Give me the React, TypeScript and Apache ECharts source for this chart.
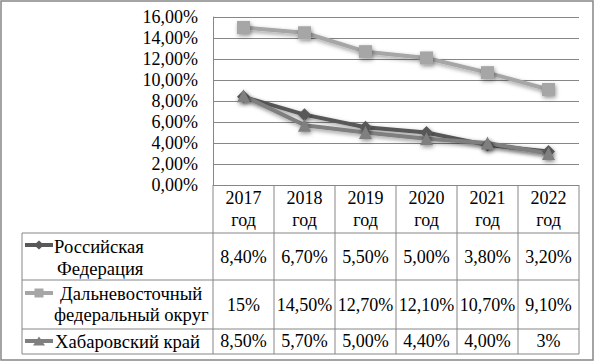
import React, { useEffect, useRef } from "react";
import * as echarts from "echarts";

const years = ["2017", "2018", "2019", "2020", "2021", "2022"];
const yearSuffix = "год";

const rfName = ["Российская", "Федерация"];
const dfoName = ["Дальневосточный", "федеральный округ"];
const khName = ["Хабаровский край"];

const rfValues = [8.4, 6.7, 5.5, 5.0, 3.8, 3.2];
const dfoValues = [15, 14.5, 12.7, 12.1, 10.7, 9.1];
const khValues = [8.5, 5.7, 5.0, 4.4, 4.0, 3.0];

const rfLabels = ["8,40%", "6,70%", "5,50%", "5,00%", "3,80%", "3,20%"];
const dfoLabels = ["15%", "14,50%", "12,70%", "12,10%", "10,70%", "9,10%"];
const khLabels = ["8,50%", "5,70%", "5,00%", "4,40%", "4,00%", "3%"];

const yMin = 0;
const yMax = 16;
const yInterval = 2;

const FONT = "Liberation Serif";
const W = 595;
const H = 362;
const L = 213;
const R = 579;
const T = 17;
const B = 185;
const GRID_COLOR = "#868686";
const TEXT_COLOR = "#000000";

const colors = { rf: "#595959", dfo: "#a6a6a6", kh: "#7f7f7f" };

export default function App() {
  const ref = useRef<HTMLDivElement>(null);
  useEffect(() => {
    if (!ref.current) return;
    const chart = echarts.init(ref.current, undefined, { renderer: "svg" });
    const colW = (R - L) / years.length;
    const rowLines = [233, 280, 329, 354];
    const tableLeft = 22;

    const graphics: any[] = [];
    const line = (x1: number, y1: number, x2: number, y2: number) =>
      graphics.push({
        type: "line",
        shape: { x1, y1, x2, y2 },
        style: { stroke: GRID_COLOR, lineWidth: 1 },
        silent: true,
      });
    graphics.push({
      type: "rect",
      shape: { x: 1, y: 1, width: W - 3, height: H - 3 },
      style: { fill: "none", stroke: GRID_COLOR, lineWidth: 1.5 },
      silent: true,
    });
    rowLines.forEach((y) => line(tableLeft, y, R, y));
    line(tableLeft, rowLines[0], tableLeft, rowLines[3]);
    for (let i = 0; i <= years.length; i++) {
      const x = Math.round(L + colW * i);
      line(x, B, x, rowLines[3]);
    }
    const txt = (text: string, x: number, y: number, align: string, size = 18) =>
      graphics.push({
        type: "text",
        x,
        y,
        style: {
          text,
          fontFamily: FONT,
          fontSize: size,
          fill: TEXT_COLOR,
          align,
          verticalAlign: "middle",
        },
        silent: true,
      });
    const rows = [
      { labels: rfLabels, y: 257 },
      { labels: dfoLabels, y: 305 },
      { labels: khLabels, y: 341 },
    ];
    rows.forEach((r) =>
      r.labels.forEach((lab, i) => txt(lab, L + colW * (i + 0.5), r.y, "center"))
    );
    const hs = 18.6;
    txt(rfName[0], 54, 246, "left", hs);
    txt(rfName[1], 57, 268, "left", hs);
    txt(dfoName[0], 60, 293, "left", hs);
    txt(dfoName[1], 54, 314, "left", hs);
    txt(khName[0], 55, 341, "left", hs);

    const key = (y: number, color: string, symbol: string, w: number, h: number) => {
      graphics.push({
        type: "line",
        shape: { x1: 25, y1: y, x2: 53, y2: y },
        style: { stroke: color, lineWidth: 4 },
        silent: true,
      });
      if (symbol === "diamond") {
        graphics.push({
          type: "polygon",
          shape: { points: [[39, y - h / 2], [39 + w / 2, y], [39, y + h / 2], [39 - w / 2, y]] },
          style: { fill: color },
          silent: true,
        });
      } else if (symbol === "rect") {
        graphics.push({
          type: "rect",
          shape: { x: 39 - w / 2, y: y - h / 2, width: w, height: h },
          style: { fill: color },
          silent: true,
        });
      } else {
        graphics.push({
          type: "polygon",
          shape: { points: [[39, y - h / 2], [39 + w / 2, y + h / 2], [39 - w / 2, y + h / 2]] },
          style: { fill: color },
          silent: true,
        });
      }
    };
    key(245, colors.rf, "diamond", 10, 9);
    key(293, colors.dfo, "rect", 9, 9);
    key(341, colors.kh, "triangle", 12, 9);

    const shadow = {
      shadowBlur: 4,
      shadowColor: "rgba(0,0,0,0.4)",
      shadowOffsetX: 1,
      shadowOffsetY: 2,
    };
    const mkSeries = (name: string, data: number[], color: string, symbol: string, size: number) => ({
      name,
      type: "line",
      data,
      symbol,
      symbolSize: size,
      lineStyle: { color, width: 4, ...shadow },
      itemStyle: { color, ...shadow },
      silent: true,
    });

    chart.setOption({
      animation: false,
      textStyle: { fontFamily: FONT },
      grid: { left: L, right: W - R, top: T, bottom: H - B, containLabel: false },
      xAxis: {
        type: "category",
        data: years,
        boundaryGap: true,
        axisLine: { show: false },
        axisTick: { show: false },
        axisLabel: {
          formatter: (v: string) => `${v}\n${yearSuffix}`,
          fontSize: 18,
          fontFamily: FONT,
          color: TEXT_COLOR,
          lineHeight: 22,
          margin: 2,
        },
      },
      yAxis: {
        type: "value",
        min: yMin,
        max: yMax,
        interval: yInterval,
        axisLine: { show: true, lineStyle: { color: GRID_COLOR, width: 1 } },
        axisTick: { show: false },
        splitLine: { lineStyle: { color: GRID_COLOR, width: 1 } },
        axisLabel: {
          formatter: (v: number) => v.toFixed(2).replace(".", ",") + "%",
          fontSize: 18,
          fontFamily: FONT,
          color: TEXT_COLOR,
          margin: 15,
        },
      },
      series: [
        mkSeries("Российская Федерация", rfValues, colors.rf, "diamond", 13),
        mkSeries("Дальневосточный федеральный округ", dfoValues, colors.dfo, "rect", 13),
        mkSeries("Хабаровский край", khValues, colors.kh, "triangle", 13),
      ],
      graphic: { elements: graphics },
    });
    return () => chart.dispose();
  }, []);
  return (
    <div
      ref={ref}
      style={{ position: "fixed", left: 0, top: 0, width: W, height: H, background: "#fff" }}
    />
  );
}
